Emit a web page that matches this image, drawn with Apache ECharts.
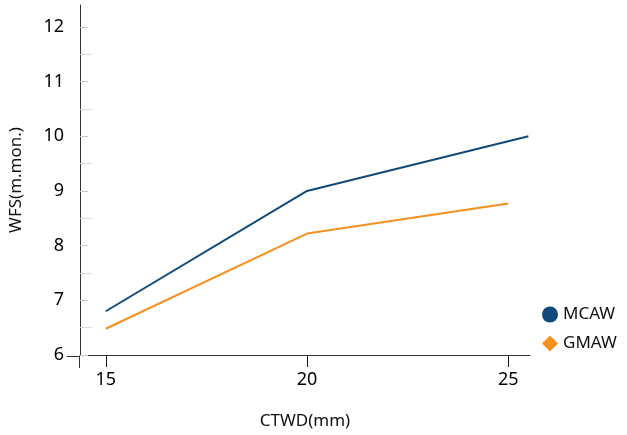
<!DOCTYPE html>
<html>
<head>
<meta charset="utf-8">
<script src="https://cdn.jsdelivr.net/npm/echarts@6/dist/echarts.min.js"></script>
<style>html,body{margin:0;padding:0;background:#fff}#c{width:627px;height:435px}</style>
</head>
<body>
<div id="c"></div>
<script>
const seriesNames = ['MCAW', 'GMAW'];
const mcawX = [15, 20, 25.5];
const mcawY = [6.8, 9.0, 10.0];
const gmawX = [15, 20, 25];
const gmawY = [6.48, 8.22, 8.77];
const xTickValues = [15, 20, 25];
const yLabelValues = [6, 7, 8, 9, 10, 11, 12];
const yMinorValues = [6.5, 7.5, 8.5, 9.5, 10.5, 11.5];
const colors = ['#0f4a7b', '#f7901e'];

const chart = echarts.init(document.getElementById('c'), null, {renderer: 'canvas'});
const font = 'Noto Sans';
const grid = {left: 79, right: 97, top: 5, bottom: 79};
const xMin = 14.36, xMax = 25.54, yMin = 6, yMax = 12.4;

chart.setOption({
  animation: false,
  textStyle: {fontFamily: font},
  grid: grid,
  legend: {
    orient: 'vertical', left: 537, top: 301, itemGap: 12, itemWidth: 16, itemHeight: 16,
    textStyle: {fontSize: 17, color: '#111', fontFamily: font},
    data: [{name: seriesNames[0], icon: 'circle'}, {name: seriesNames[1], icon: 'diamond'}]
  },
  xAxis: {
    type: 'value', min: xMin, max: xMax,
    name: 'CTWD(mm)', nameLocation: 'middle', nameGap: 58,
    nameTextStyle: {fontSize: 17, color: '#111', fontFamily: font},
    axisLine: {show: true, lineStyle: {color: '#333', width: 1}},
    axisTick: {show: true, customValues: xTickValues, length: 12, lineStyle: {color: '#111'}},
    axisLabel: {customValues: xTickValues, fontSize: 18, color: '#000', margin: 16, fontFamily: font},
    splitLine: {show: false}
  },
  yAxis: [{
    type: 'value', min: yMin, max: yMax,
    name: 'WFS(m.mon.)', nameLocation: 'middle', nameGap: 55, nameRotate: 90,
    nameTextStyle: {fontSize: 17, color: '#111', fontFamily: font},
    axisLine: {show: true, lineStyle: {color: '#333', width: 1}},
    axisTick: {show: true, inside: true, customValues: yLabelValues, length: 8, lineStyle: {color: '#ccc'}},
    axisLabel: {customValues: yLabelValues, fontSize: 18, color: '#000', margin: 16, fontFamily: font},
    splitLine: {show: false}
  }, {
    type: 'value', min: yMin, max: yMax, position: 'left',
    axisLine: {show: false},
    axisTick: {show: true, inside: true, customValues: yMinorValues, length: 12, lineStyle: {color: '#ddd'}},
    axisLabel: {show: false},
    splitLine: {show: false}
  }],
  graphic: [
    {type: 'line', shape: {x1: 79.5, y1: 356, x2: 79.5, y2: 368}, style: {stroke: '#333', lineWidth: 1}},
    {type: 'line', shape: {x1: 67, y1: 356.5, x2: 79, y2: 356.5}, style: {stroke: '#333', lineWidth: 1}}
  ],
  series: [{
    name: seriesNames[0], type: 'line', showSymbol: false, symbol: 'circle',
    color: colors[0], lineStyle: {width: 2, color: colors[0]},
    data: mcawX.map((x, i) => [x, mcawY[i]])
  }, {
    name: seriesNames[1], type: 'line', showSymbol: false, symbol: 'diamond',
    color: colors[1], lineStyle: {width: 2, color: colors[1]},
    data: gmawX.map((x, i) => [x, gmawY[i]])
  }]
});
</script>
</body>
</html>
